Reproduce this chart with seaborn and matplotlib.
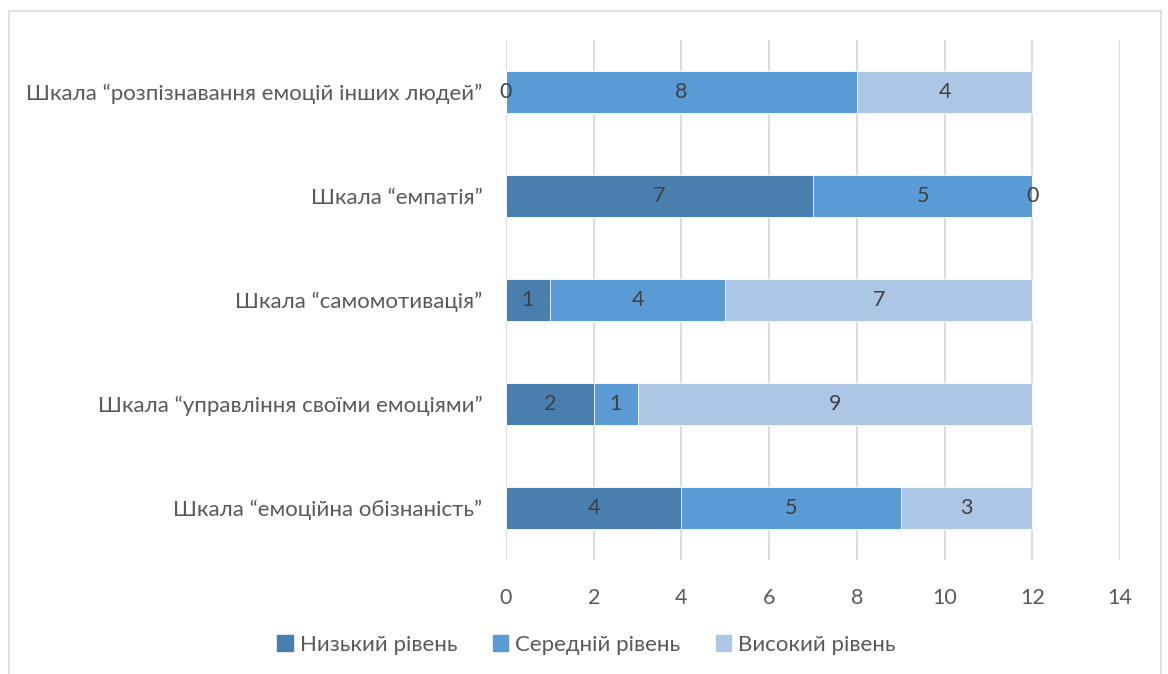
import pandas as pd
import seaborn as sns
import matplotlib.pyplot as plt
import matplotlib as mpl
from matplotlib.patches import Patch, Rectangle

sns.set_style("white")
mpl.rc('font', family=['Lato', 'DejaVu Sans'], size=15)

scales = ["Шкала “розпізнавання емоцій інших людей”",
          "Шкала “емпатія”",
          "Шкала “самомотивація”",
          "Шкала “управління своїми емоціями”",
          "Шкала “емоційна обізнаність”"]
low = [0, 7, 1, 2, 4]
mid = [8, 5, 4, 1, 5]
high = [4, 0, 7, 9, 3]
levels = ["Низький рівень", "Середній рівень", "Високий рівень"]
colors = ["#4a7eaf", "#5b9bd5", "#adc6e5"]
txt = "#595959"

df = pd.DataFrame({"scale": scales, "low": low, "mid": mid, "high": high})
df["cum_mid"] = df["low"] + df["mid"]
df["cum_high"] = df["cum_mid"] + df["high"]

fig = plt.figure(figsize=(11.68, 6.74), dpi=100)
ax = fig.add_axes([506/1168, 1 - 560/674, (1120-506)/1168, 520/674])

# stacked by overlaying cumulative totals
for col, c in zip(["cum_high", "cum_mid", "low"], colors[::-1]):
    sns.barplot(data=df, y="scale", x=col, order=scales, color=c,
                orient="h", width=0.4, saturation=1, ax=ax,
                edgecolor="white", linewidth=0.6)

for i, r in df.iterrows():
    starts = [0, r["low"], r["cum_mid"]]
    for s, v in zip(starts, [r["low"], r["mid"], r["high"]]):
        ax.text(s + v/2, i, str(v), ha="center", va="center",
                color="#404040", fontsize=15.5)

ax.set_xlim(0, 14)
ax.set_ylim(4.5, -0.5)
ax.set_xticks(range(0, 15, 2))
ax.grid(axis="x", color="#d9d9d9", linewidth=1.3)
ax.set_axisbelow(True)
for s in ax.spines.values():
    s.set_visible(False)
ax.set_xlabel("")
ax.set_ylabel("")
ax.tick_params(axis="both", length=0, colors=txt)
ax.tick_params(axis="x", pad=20, labelsize=15.5)
ax.tick_params(axis="y", pad=17, labelsize=16)

handles = [Patch(color=c, label=l) for c, l in zip(colors, levels)]
leg = fig.legend(handles=handles, loc="center", bbox_to_anchor=(0.502, 0.043),
                 ncol=3, frameon=False, handlelength=0.7, handleheight=0.7,
                 handletextpad=0.3, columnspacing=1.6, fontsize=16)
for t in leg.get_texts():
    t.set_color(txt)

fig.patches.append(Rectangle((9/1168, -0.01), (1161-9)/1168, 1.01 - 11/674,
                             transform=fig.transFigure, fill=False,
                             edgecolor="#d9d9d9", linewidth=1.2))

fig.savefig("out.png", dpi=100)
